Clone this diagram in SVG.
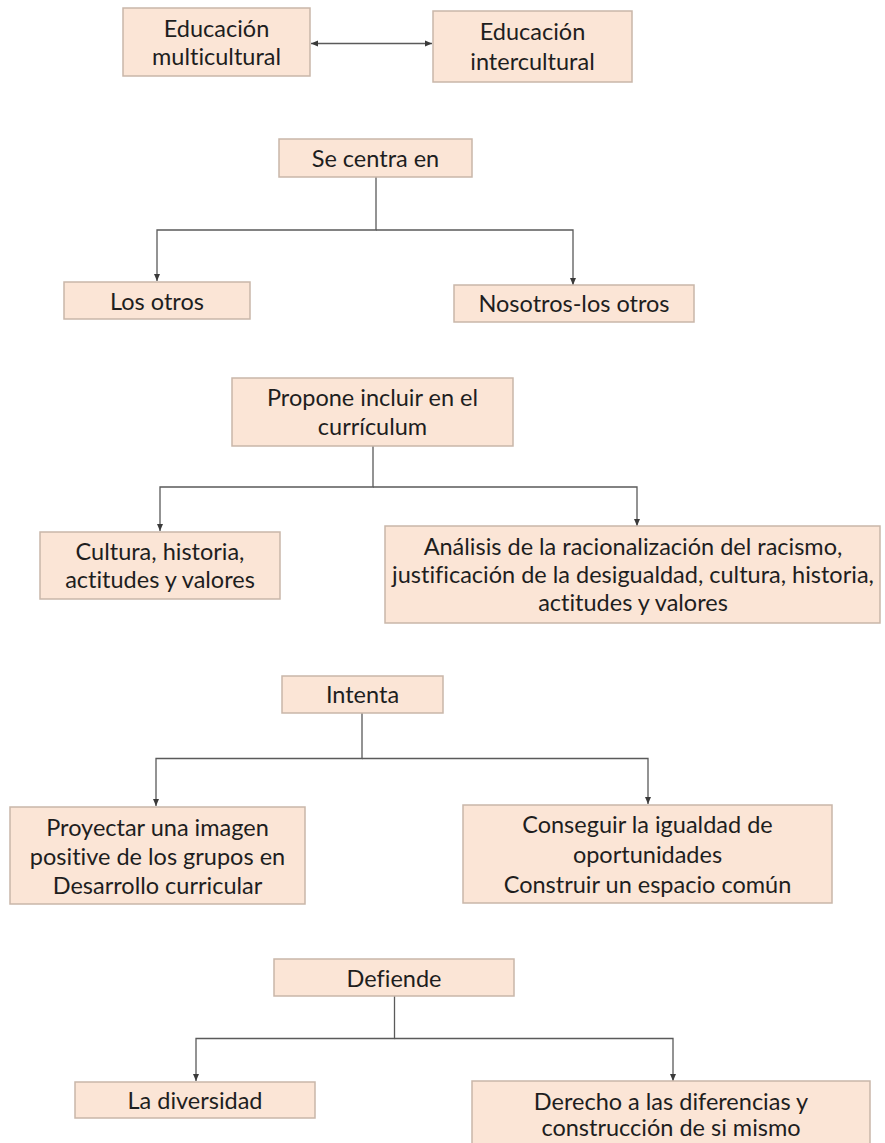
<svg xmlns="http://www.w3.org/2000/svg" width="885" height="1143" viewBox="0 0 885 1143">
<style>
.box{fill:#fbe5d6;stroke:#c9b6a9;stroke-width:1.5}
.t{font-family:Lato,"Liberation Sans",sans-serif;font-size:23.5px;fill:#1e1e1e;text-anchor:middle;font-variant-ligatures:none}
.c{fill:none;stroke:#5a5a5a;stroke-width:1.3}
</style>
<defs>
<marker id="ah" markerUnits="userSpaceOnUse" markerWidth="8" markerHeight="8" refX="7" refY="4" orient="auto-start-reverse">
<path d="M0,1 L7,4 L0,7 Z" fill="#3a3a3a"/>
</marker>
</defs>
<rect width="885" height="1143" fill="#ffffff"/>
<g id="connectors">
<path class="c" d="M311,43.5 L432,43.5" marker-start="url(#ah)" marker-end="url(#ah)"/>
<path class="c" d="M376,177 V230 H157 V281" marker-end="url(#ah)"/>
<path class="c" d="M376,230 H573 V285" marker-end="url(#ah)"/>
<path class="c" d="M373,446 V487 H160 V531" marker-end="url(#ah)"/>
<path class="c" d="M373,487 H637 V526" marker-end="url(#ah)"/>
<path class="c" d="M362,713 V758.5 H156 V806" marker-end="url(#ah)"/>
<path class="c" d="M362,758.5 H648 V804" marker-end="url(#ah)"/>
<path class="c" d="M394.5,996 V1038.5 H196 V1081" marker-end="url(#ah)"/>
<path class="c" d="M394.5,1038.5 H673 V1081" marker-end="url(#ah)"/>
</g>
<g id="n1"><rect class="box" x="123" y="8" width="187" height="68"/><text class="t" x="216.5" y="37">Educación</text><text class="t" x="216.5" y="65">multicultural</text></g>
<g id="n2"><rect class="box" x="433" y="11" width="199" height="71"/><text class="t" x="532.5" y="40">Educación</text><text class="t" x="532.5" y="70">intercultural</text></g>
<g id="n3"><rect class="box" x="279" y="139" width="193" height="38"/><text class="t" x="375.5" y="167">Se centra en</text></g>
<g id="n4"><rect class="box" x="64" y="282" width="186" height="37"/><text class="t" x="157" y="310">Los otros</text></g>
<g id="n5"><rect class="box" x="454" y="285" width="240" height="37"/><text class="t" x="574" y="312">Nosotros-los otros</text></g>
<g id="n6"><rect class="box" x="232" y="378" width="281" height="68"/><text class="t" x="372.5" y="406">Propone incluir en el</text><text class="t" x="372.5" y="435">currículum</text></g>
<g id="n7"><rect class="box" x="40" y="532" width="240" height="67"/><text class="t" x="160" y="560">Cultura, historia,</text><text class="t" x="160" y="588">actitudes y valores</text></g>
<g id="n8"><rect class="box" x="385" y="526" width="495" height="97"/><text class="t" x="633" y="555">Análisis de la racionalización del racismo,</text><text class="t" x="633" y="583">justificación de la desigualdad, cultura, historia,</text><text class="t" x="633" y="611">actitudes y valores</text></g>
<g id="n9"><rect class="box" x="282" y="676" width="161" height="37"/><text class="t" x="362.5" y="703">Intenta</text></g>
<g id="n10"><rect class="box" x="10" y="807" width="295" height="97"/><text class="t" x="157.5" y="836">Proyectar una imagen</text><text class="t" x="157.5" y="865">positive de los grupos en</text><text class="t" x="157.5" y="894">Desarrollo curricular</text></g>
<g id="n11"><rect class="box" x="463" y="805" width="369" height="98"/><text class="t" x="647.5" y="833">Conseguir la igualdad de</text><text class="t" x="647.5" y="863">oportunidades</text><text class="t" x="647.5" y="893">Construir un espacio común</text></g>
<g id="n12"><rect class="box" x="274" y="959" width="240" height="37"/><text class="t" x="394" y="987">Defiende</text></g>
<g id="n13"><rect class="box" x="75" y="1082" width="240" height="36"/><text class="t" x="195" y="1109">La diversidad</text></g>
<g id="n14"><rect class="box" x="472" y="1081" width="398" height="72"/><text class="t" x="671" y="1110">Derecho a las diferencias y</text><text class="t" x="671" y="1136">construcción de si mismo</text></g>
</svg>
